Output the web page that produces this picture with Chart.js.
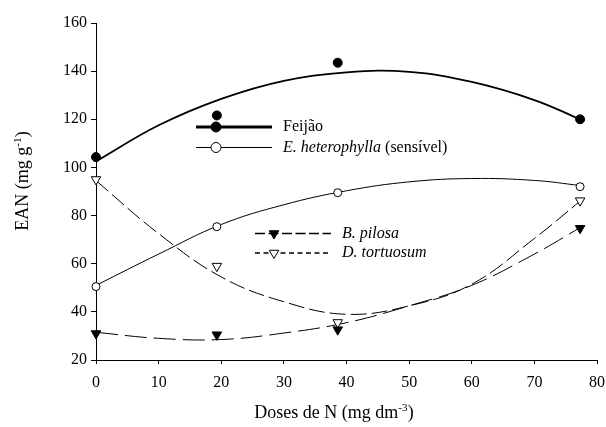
<!DOCTYPE html>
<html>
<head>
<meta charset="utf-8">
<script src="https://cdn.jsdelivr.net/npm/chart.js@4/dist/chart.umd.min.js"></script>
<style>
    html, body { margin: 0; padding: 0; background: #fff; }
    #wrap { width: 606px; height: 427px; }
</style>
</head>
<body>
<div id="wrap"><canvas id="eanChart" width="606" height="427"></canvas></div>
<script>
    'use strict';

    // Observed values at each N dose
    const doseLevels = [0, 19.3, 38.6, 77.3];
    const feijaoPoints = [104.3, 121.6, 143.5, 120];
    const heterophyllaPoints = [50.5, 75.4, 89.5, 92];
    const pilosaPoints = [31, 30.5, 32.6, 74.7];
    const tortuosumPoints = [95, 59, 35.6, 86.2];

    // Fitted response curves, sampled along the dose axis
    const fitDoses = [0, 10, 20, 30, 40, 50, 60, 70, 77.3];
    const feijaoFit = [102.5, 117.5, 128.5, 136, 139.5, 139.7, 135.5, 128, 120];
    const heterophyllaFit = [51, 64, 76.3, 84.5, 90.3, 94, 95.4, 94.6, 92.5];
    const pilosaFit = [31.5, 29, 28.5, 31.2, 35.5, 42.5, 51, 64, 75];
    const tortuosumFit = [94.5, 72.5, 54.5, 44.2, 39, 42.5, 51.5, 70.5, 86];

    // Axis limits
    const xTicks = [0, 80, 10];
    const yTicks = [20, 160, 20];

    const SERIF = '"Liberation Serif", "Times New Roman", Times, serif';

    const toXY = (xs, ys) => xs.map((x, i) => ({ x: x, y: ys[i] }));

    const curve = (values, width, dash) => ({
        type: 'line',
        data: toXY(fitDoses, values),
        borderColor: '#000',
        borderWidth: width,
        borderDash: dash,
        pointRadius: 0,
        tension: 0.4,
        fill: false,
        clip: false,
        order: 2
    });

    const markers = (values, style, fill, radius, rotation) => ({
        type: 'scatter',
        data: toXY(doseLevels, values),
        pointStyle: style,
        pointRadius: radius,
        pointRotation: rotation || 0,
        pointBackgroundColor: fill,
        pointBorderColor: '#000',
        pointBorderWidth: 1,
        showLine: false,
        clip: false,
        order: 1
    });

    // Text with a raised part, e.g. "mg dm-3"
    const drawRichText = (ctx, parts, cx, baseline, size) => {
        const fontFor = (p) => (p.italic ? 'italic ' : '') + (p.sup ? size * 0.62 : size) + 'px ' + SERIF;
        let total = 0;
        parts.forEach((p) => { ctx.font = fontFor(p); total += ctx.measureText(p.text).width; });
        let x = cx - total / 2;
        parts.forEach((p) => {
            ctx.font = fontFor(p);
            ctx.fillText(p.text, x, p.sup ? baseline - size * 0.38 : baseline);
            x += ctx.measureText(p.text).width;
        });
    };

    const drawMarker = (ctx, kind, x, y, r) => {
        ctx.beginPath();
        if (kind === 'circle' || kind === 'openCircle') {
            ctx.arc(x, y, r, 0, Math.PI * 2);
        } else {
            // downward triangle
            ctx.moveTo(x, y + r);
            ctx.lineTo(x - r * 0.866, y - r / 2);
            ctx.lineTo(x + r * 0.866, y - r / 2);
            ctx.closePath();
        }
        ctx.fillStyle = (kind === 'circle' || kind === 'triangle') ? '#000' : '#fff';
        ctx.fill();
        ctx.lineWidth = 1;
        ctx.setLineDash([]);
        ctx.strokeStyle = '#000';
        ctx.stroke();
    };

    const legendRows = [
        { y: 127, x0: 196, x1: 272, mx: 216, width: 3, dash: [], marker: 'circle', r: 5,
          tx: 283, parts: [{ text: 'Feijão' }] },
        { y: 147.5, x0: 196, x1: 272, mx: 216, width: 1, dash: [], marker: 'openCircle', r: 5,
          tx: 283, parts: [{ text: 'E. heterophylla', italic: true }, { text: ' (sensível)' }] },
        { y: 233.5, x0: 255, x1: 331, mx: 274, width: 1.5, dash: [10, 3.5], marker: 'triangle', r: 5.5,
          tx: 342, parts: [{ text: 'B. pilosa', italic: true }] },
        { y: 253, x0: 255, x1: 331, mx: 274, width: 1.5, dash: [5, 3.5], marker: 'openTriangle', r: 5.5,
          tx: 342, parts: [{ text: 'D. tortuosum', italic: true }] }
    ];

    const figureText = {
        id: 'figureText',
        afterDraw(chart) {
            const ctx = chart.ctx;
            ctx.save();
            ctx.fillStyle = '#000';
            ctx.textAlign = 'left';

            // legend boxes inside the plot
            legendRows.forEach((row) => {
                ctx.beginPath();
                ctx.setLineDash(row.dash);
                ctx.lineWidth = row.width;
                ctx.strokeStyle = '#000';
                ctx.moveTo(row.x0, row.y);
                ctx.lineTo(row.x1, row.y);
                ctx.stroke();
                drawMarker(ctx, row.marker, row.mx, row.y, row.r);
                ctx.fillStyle = '#000';
                ctx.textBaseline = 'middle';
                let x = row.tx;
                row.parts.forEach((p) => {
                    ctx.font = (p.italic ? 'italic ' : '') + '16px ' + SERIF;
                    ctx.fillText(p.text, x, row.y);
                    x += ctx.measureText(p.text).width;
                });
            });

            ctx.textBaseline = 'alphabetic';
            ctx.setLineDash([]);

            // x axis title
            drawRichText(ctx, [
                { text: 'Doses de N (mg dm' }, { text: '-3', sup: true }, { text: ')' }
            ], 334, 418, 18);

            // y axis title
            ctx.translate(27.5, 181);
            ctx.rotate(-Math.PI / 2);
            drawRichText(ctx, [
                { text: 'EAN (mg g' }, { text: '-1', sup: true }, { text: ')' }
            ], 0, 0, 18);
            ctx.restore();
        }
    };

    const axisStyle = (tickLength) => ({
        grid: {
            display: true,
            drawOnChartArea: false,
            drawTicks: true,
            tickLength: tickLength,
            color: '#000',
            lineWidth: 1
        },
        border: { display: true, color: '#000', width: 1 }
    });

    new Chart(document.getElementById('eanChart'), {
        type: 'scatter',
        data: {
            datasets: [
                curve(feijaoFit, 1.8, []),
                curve(heterophyllaFit, 1, []),
                curve(pilosaFit, 1, [22, 7]),
                curve(tortuosumFit, 1, [16, 5]),
                markers(feijaoPoints, 'circle', '#000', 4.5),
                markers(heterophyllaPoints, 'circle', '#fff', 4),
                markers(pilosaPoints, 'triangle', '#000', 5.5, 180),
                markers(tortuosumPoints, 'triangle', '#fff', 5.5, 180)
            ]
        },
        options: {
            responsive: false,
            animation: false,
            devicePixelRatio: 1,
            layout: { padding: { left: 0, right: 9, top: 23, bottom: 0 } },
            plugins: {
                legend: { display: false },
                tooltip: { enabled: false },
                title: { display: false }
            },
            scales: {
                x: {
                    type: 'linear',
                    min: xTicks[0],
                    max: xTicks[1],
                    ...axisStyle(4),
                    ticks: {
                        stepSize: xTicks[2],
                        color: '#000',
                        padding: 9,
                        maxRotation: 0,
                        font: { family: SERIF, size: 16 }
                    },
                    afterFit: (scale) => {
                        scale.height = 67;
                        scale.paddingLeft = 0;
                        scale.paddingRight = 0;
                    }
                },
                y: {
                    type: 'linear',
                    min: yTicks[0],
                    max: yTicks[1],
                    ...axisStyle(5),
                    ticks: {
                        stepSize: yTicks[2],
                        color: '#000',
                        padding: 4,
                        font: { family: SERIF, size: 16 }
                    },
                    afterFit: (scale) => { scale.width = 96; }
                }
            }
        },
        plugins: [figureText]
    });
</script>
</body>
</html>
